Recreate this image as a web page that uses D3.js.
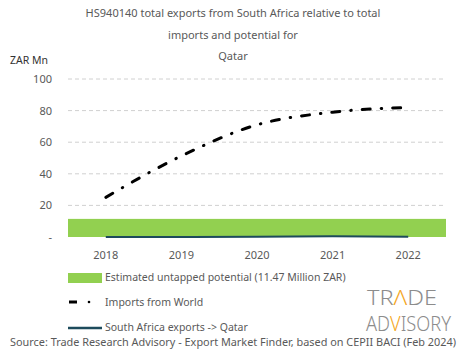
<!DOCTYPE html>
<html>
<head>
<meta charset="utf-8">
<script src="https://cdn.jsdelivr.net/npm/d3@7"></script>
<style>
  body { margin: 0; background: #fff; }
  svg text { font-family: "Noto Sans", sans-serif; fill: #595959; }
</style>
</head>
<body>
<svg id="chart" width="465" height="359"></svg>
<script>
// chart values
var years = ["2018", "2019", "2020", "2021", "2022"];
var importsWorld = [25.1, 51.3, 71, 79, 82];
var saExports = [0.05, 0.05, 0.1, 0.5, 0.1];
var untapped = 11.47;
var yTicks = [0, 20, 40, 60, 80, 100];
var titleLines = ["HS940140 total exports from South Africa relative to total", "imports and potential for", "Qatar"];

var svg = d3.select("#chart");
var margin = {top: 79, right: 19, bottom: 122, left: 68};
var width = 465 - margin.left - margin.right;
var height = 359 - margin.top - margin.bottom;

var x = d3.scaleBand().domain(years).range([0, width]);
var y = d3.scaleLinear().domain([0, 100]).range([height, 0]);

// title
svg.selectAll("text.title").data(titleLines).enter().append("text")
  .attr("class", "title")
  .attr("x", 233).attr("y", (d, i) => 17 + i * 21.5)
  .attr("text-anchor", "middle")
  .style("font-size", "11px")
  .text(d => d);

svg.append("text").attr("x", 10).attr("y", 64)
  .style("font-size", "10.5px").style("fill", "#333")
  .text("ZAR Mn");

var g = svg.append("g").attr("transform", "translate(" + margin.left + "," + margin.top + ")");

// gridlines
g.selectAll("line.grid").data(yTicks.filter(d => d > 0)).enter().append("line")
  .attr("x1", 0).attr("x2", width)
  .attr("y1", d => y(d)).attr("y2", d => y(d))
  .attr("stroke", "#d0d0d0").attr("stroke-dasharray", "4,3").attr("stroke-width", 1);

// y axis
var yAxis = g.append("g").call(d3.axisLeft(y).tickValues(yTicks)
  .tickFormat(d => d === 0 ? "-" : d).tickSize(0).tickPadding(16));
yAxis.select(".domain").remove();
yAxis.selectAll("text").style("font-size", "11px").style("fill", "#595959")
  .style("font-family", "Noto Sans, sans-serif");

// x axis
var xAxis = g.append("g").attr("transform", "translate(0," + (height + 16) + ")")
  .call(d3.axisBottom(x).tickSize(0).tickPadding(0));
xAxis.select(".domain").remove();
xAxis.selectAll("text").style("font-size", "11px").style("fill", "#595959")
  .style("font-family", "Noto Sans, sans-serif").attr("dy", "0.5em");

// untapped potential band
g.append("rect")
  .attr("x", 0).attr("width", width)
  .attr("y", y(untapped)).attr("height", y(0) - y(untapped))
  .attr("fill", "#92d050");

// SA exports
var line = d3.line().x((d, i) => x(years[i]) + x.bandwidth() / 2).y(d => y(d)).curve(d3.curveMonotoneX);
g.append("path").datum(saExports)
  .attr("d", line).attr("fill", "none")
  .attr("stroke", "#1d4b5c").attr("stroke-width", 2);

// imports from world
g.append("path").datum(importsWorld)
  .attr("d", line).attr("fill", "none")
  .attr("stroke", "#000").attr("stroke-width", 3)
  .attr("stroke-linecap", "round")
  .attr("stroke-dasharray", "8,11,0.5,11");

// legend
var lg = svg.append("g");
lg.append("rect").attr("x", 68).attr("y", 273).attr("width", 34).attr("height", 10).attr("fill", "#92d050");
lg.append("text").attr("x", 105).attr("y", 281).style("font-size", "10.5px")
  .text("Estimated untapped potential (11.47 Million ZAR)");
lg.append("line").attr("x1", 69).attr("x2", 77).attr("y1", 302).attr("y2", 302)
  .attr("stroke", "#000").attr("stroke-width", 3);
lg.append("circle").attr("cx", 89).attr("cy", 302).attr("r", 1.3).attr("fill", "#000");
lg.append("text").attr("x", 105).attr("y", 306).style("font-size", "10.5px").text("Imports from World");
lg.append("line").attr("x1", 68).attr("x2", 102).attr("y1", 328).attr("y2", 328)
  .attr("stroke", "#1d4b5c").attr("stroke-width", 2.5);
lg.append("text").attr("x", 105).attr("y", 331).style("font-size", "10.5px").text("South Africa exports -> Qatar");

// source
svg.append("text").attr("x", 10).attr("y", 346).style("font-size", "10.5px")
  .attr("textLength", 446).attr("lengthAdjust", "spacingAndGlyphs")
  .text("Source: Trade Research Advisory - Export Market Finder, based on CEPII BACI (Feb 2024)");

// logo: each piece is its own text, laid out one after the other, then squeezed in x
function logoLine(parts, x0, yb, w) {
  var lgrp = svg.append("g").style("font-family", "Roboto, sans-serif").style("font-weight", 300);
  var cx = 0;
  parts.forEach(function(p) {
    var t = lgrp.append("text").attr("x", cx).attr("y", 0).style("font-size", "20px")
      .style("fill", p[1] ? "#f5a623" : "#8c8c8c").text(p[0]);
    cx += t.node().getComputedTextLength();
  });
  lgrp.attr("transform", "translate(" + x0 + "," + yb + ") scale(" + (w / cx) + ",1)");
}
logoLine([["TR", 0], ["Λ", 1], ["DE", 0]], 367, 305, 70);
logoLine([["AD", 0], ["V", 1], ["ISORY", 0]], 366, 331, 85);
</script>
</body>
</html>
